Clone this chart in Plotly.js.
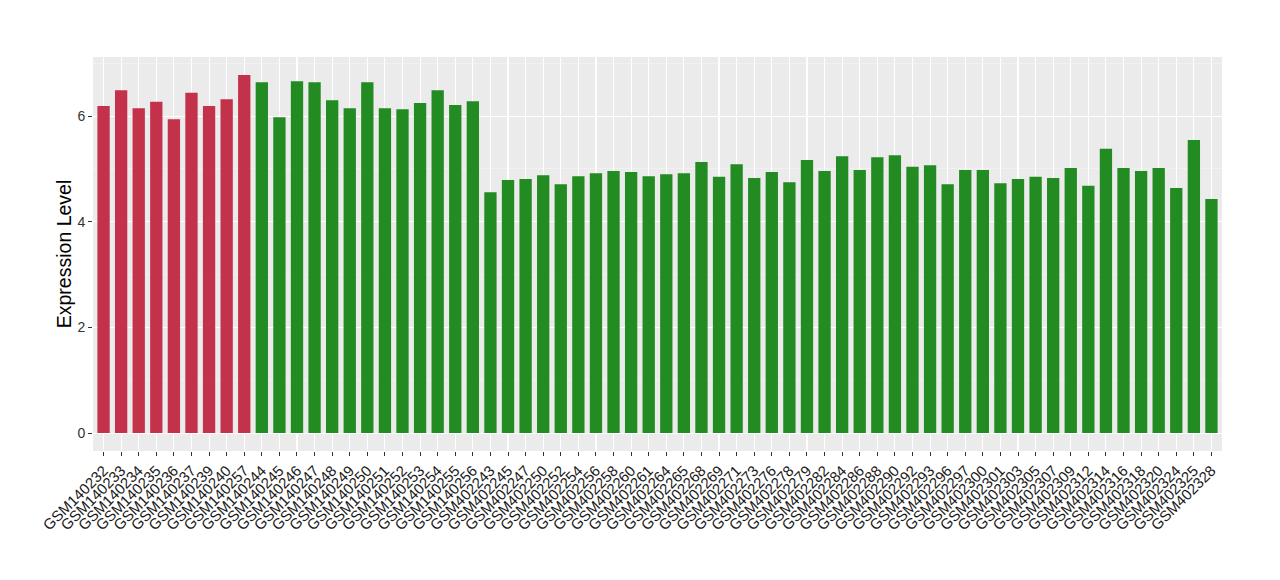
<!DOCTYPE html>
<html>
<head>
<meta charset="utf-8">
<script src="https://cdn.plot.ly/plotly-3.0.1.min.js"></script>
<style>html,body{margin:0;padding:0;background:#fff;}#chart{width:1280px;height:580px;}</style>
</head>
<body>
<div id="chart"></div>
<script>
const samples = [
  "GSM140232","GSM140233","GSM140234","GSM140235","GSM140236","GSM140237","GSM140239","GSM140240","GSM140257",
  "GSM140244","GSM140245","GSM140246","GSM140247","GSM140248","GSM140249","GSM140250","GSM140251","GSM140252",
  "GSM140253","GSM140254","GSM140255","GSM140256",
  "GSM402243","GSM402245","GSM402247","GSM402250","GSM402252","GSM402254","GSM402256","GSM402258","GSM402260",
  "GSM402261","GSM402264","GSM402265","GSM402268","GSM402269","GSM402271","GSM402273","GSM402276","GSM402278",
  "GSM402279","GSM402282","GSM402284","GSM402286","GSM402288","GSM402290","GSM402292","GSM402293","GSM402296",
  "GSM402297","GSM402300","GSM402301","GSM402303","GSM402305","GSM402307","GSM402309","GSM402312","GSM402314",
  "GSM402316","GSM402318","GSM402320","GSM402324","GSM402325","GSM402328"
];
const values = [
  6.19,6.49,6.15,6.27,5.94,6.44,6.19,6.32,6.78,
  6.64,5.98,6.66,6.64,6.30,6.15,6.64,6.15,6.13,
  6.25,6.49,6.21,6.28,
  4.56,4.79,4.81,4.88,4.71,4.86,4.92,4.96,4.94,
  4.86,4.90,4.92,5.13,4.85,5.09,4.83,4.94,4.75,
  5.17,4.96,5.24,4.98,5.22,5.26,5.04,5.07,4.71,
  4.98,4.98,4.73,4.81,4.85,4.83,5.02,4.68,5.38,
  5.02,4.96,5.02,4.64,5.55,4.43
];
const groups = [
  "A","A","A","A","A","A","A","A","A",
  "B","B","B","B","B","B","B","B","B","B","B","B","B",
  "B","B","B","B","B","B","B","B","B","B","B","B","B","B","B","B","B","B","B","B","B",
  "B","B","B","B","B","B","B","B","B","B","B","B","B","B","B","B","B","B","B","B","B","B","B"
];
const groupColors = {A: "#C4314B", B: "#228B22"};
const yTicks = [0, 2, 4, 6];

const maxV = Math.max(...values);
const trace = {
  type: "bar",
  x: samples,
  y: values,
  marker: {color: groups.map(g => groupColors[g]), line: {width: 0}},
  width: 0.7,
  hoverinfo: "x+y"
};
const layout = {
  width: 1280, height: 580,
  margin: {l: 93, r: 58, t: 57, b: 129},
  paper_bgcolor: "#ffffff",
  plot_bgcolor: "#EBEBEB",
  showlegend: false,
  font: {family: "Liberation Sans, Arial, sans-serif", color: "#000"},
  xaxis: {
    type: "category",
    range: [-0.6, samples.length - 1 + 0.6],
    tickmode: "array",
    tickvals: samples,
    ticktext: samples,
    tickangle: -45,
    tickfont: {size: 15, color: "#1a1a1a"},
    showgrid: true, gridcolor: "#ffffff", gridwidth: 1.1,
    ticks: "outside", ticklen: 4, tickcolor: "#333333", tickwidth: 1,
    showline: false, zeroline: false, automargin: false
  },
  yaxis: {
    range: [-0.05 * maxV, 1.05 * maxV],
    tickvals: yTicks,
    ticktext: yTicks.map(String),
    tickfont: {size: 14, color: "#333333"},
    title: {text: "Expression Level", font: {size: 19.5, color: "#000"}, standoff: 0},
    showgrid: true, gridcolor: "#ffffff", gridwidth: 1.1,
    minor: {dtick: 1, showgrid: true, gridcolor: "#F5F5F5", gridwidth: 0.6, ticks: ""},
    ticks: "outside", ticklen: 4, tickcolor: "#333333", tickwidth: 1,
    showline: false, zeroline: false, automargin: false
  }
};
Plotly.newPlot("chart", [trace], layout, {displayModeBar: false, staticPlot: true});
</script>
</body>
</html>
